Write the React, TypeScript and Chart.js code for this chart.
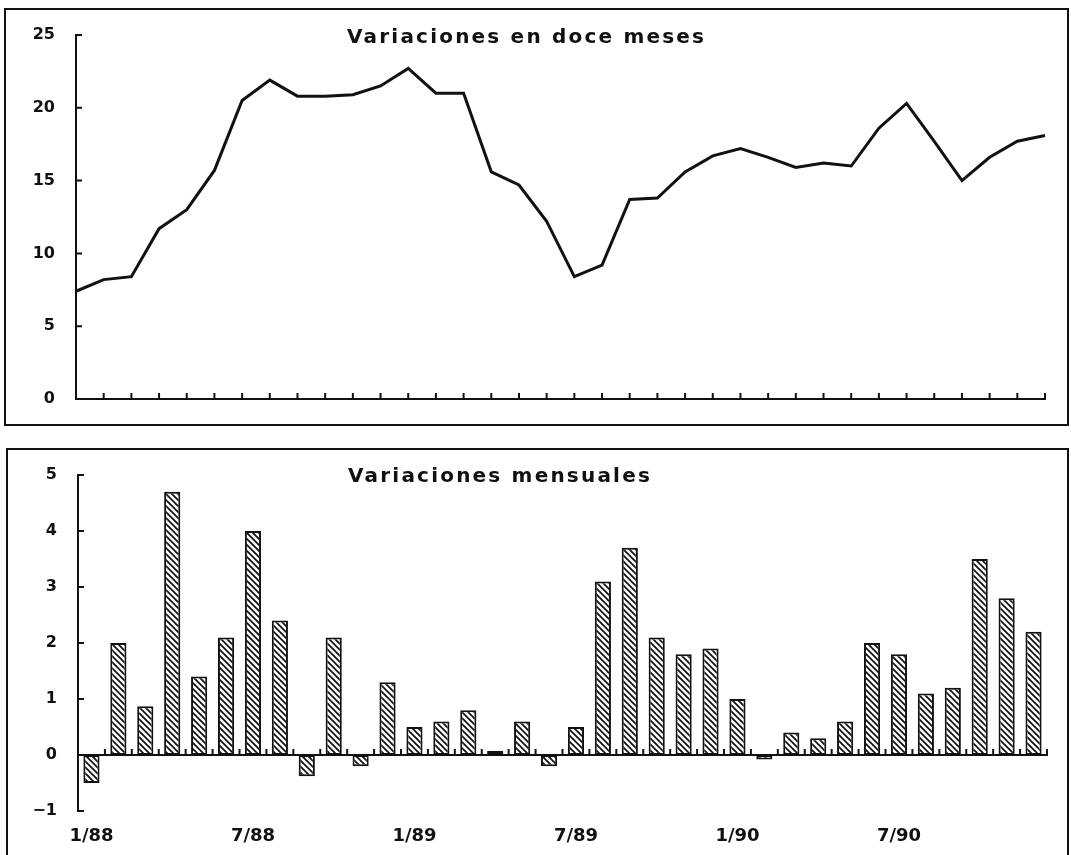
import React, { useEffect, useRef } from 'react';
import { Chart, registerables } from 'chart.js';

Chart.register(...registerables);

// ---- data ----
const months: string[] = [
  '1/88', '2/88', '3/88', '4/88', '5/88', '6/88', '7/88', '8/88', '9/88', '10/88', '11/88', '12/88',
  '1/89', '2/89', '3/89', '4/89', '5/89', '6/89', '7/89', '8/89', '9/89', '10/89', '11/89', '12/89',
  '1/90', '2/90', '3/90', '4/90', '5/90', '6/90', '7/90', '8/90', '9/90', '10/90', '11/90', '12/90',
];

const twelveMonthChange: number[] = [
  7.4, 8.2, 8.4, 11.7, 13.0, 15.7, 20.5, 21.9, 20.8, 20.8, 20.9, 21.5,
  22.7, 21.0, 21.0, 15.6, 14.7, 12.2, 8.4, 9.2, 13.7, 13.8, 15.6, 16.7,
  17.2, 16.6, 15.9, 16.2, 16.0, 18.6, 20.3, 17.7, 15.0, 16.6, 17.7, 18.1,
];

const monthlyChange: number[] = [
  -0.5, 2.0, 0.87, 4.7, 1.4, 2.1, 4.0, 2.4, -0.38, 2.1, -0.2, 1.3,
  0.5, 0.6, 0.8, 0.07, 0.6, -0.2, 0.5, 3.1, 3.7, 2.1, 1.8, 1.9,
  1.0, -0.08, 0.4, 0.3, 0.6, 2.0, 1.8, 1.1, 1.2, 3.5, 2.8, 2.2,
];

const shownMonthLabels: string[] = ['1/88', '7/88', '1/89', '7/89', '1/90', '7/90'];

const titleTop = 'Variaciones en doce meses';
const titleBottom = 'Variaciones mensuales';

// ---- style ----
const INK = '#111';
const FONT_FAMILY = '"DejaVu Sans", "Liberation Sans", sans-serif';
const tickFont = { family: FONT_FAMILY, size: 16, weight: 'bold' as const };

const panelTitlePlugin = {
  id: 'panelTitle',
  afterDraw(chart: any, _args: any, opts: any) {
    if (!opts || !opts.text) return;
    const ctx = chart.ctx as CanvasRenderingContext2D;
    ctx.save();
    ctx.font = `bold ${opts.size}px ${FONT_FAMILY}`;
    (ctx as any).letterSpacing = `${opts.spacing}px`;
    ctx.fillStyle = INK;
    ctx.textAlign = 'left';
    ctx.textBaseline = 'middle';
    ctx.fillText(opts.text, opts.x, opts.y);
    ctx.restore();
  },
};

// Inward tick marks: on the y axis (pointing right) and on the y=0 line (pointing up)
const innerTicksPlugin = {
  id: 'innerTicks',
  afterDatasetsDraw(chart: any, _args: any, opts: any) {
    const xs = chart.scales[opts.xScale || 'x'];
    const ys = chart.scales.y;
    if (!xs || !ys) return;
    const len = opts.len || 6;
    const ctx = chart.ctx as CanvasRenderingContext2D;
    ctx.save();
    ctx.strokeStyle = INK;
    ctx.lineWidth = 2;
    ctx.beginPath();
    const ax = ys.right;
    ys.ticks.forEach((_t: any, i: number) => {
      const py = ys.getPixelForTick(i);
      ctx.moveTo(ax, py);
      ctx.lineTo(ax + len, py);
    });
    const base = ys.getPixelForValue(0);
    const n = chart.data.labels.length;
    if (opts.between) {
      for (let i = 0; i <= n; i++) {
        const px = xs.getPixelForValue(i - 0.5);
        ctx.moveTo(px, base);
        ctx.lineTo(px, base - len);
      }
    } else {
      for (let i = 0; i < n; i++) {
        const px = xs.getPixelForValue(i);
        ctx.moveTo(px, base);
        ctx.lineTo(px, base - len);
      }
    }
    ctx.stroke();
    ctx.restore();
  },
};

function makeHatch(): CanvasPattern | string {
  const c = document.createElement('canvas');
  c.width = 6;
  c.height = 6;
  const g = c.getContext('2d');
  if (!g) return '#fff';
  g.fillStyle = '#fff';
  g.fillRect(0, 0, 6, 6);
  g.strokeStyle = INK;
  g.lineWidth = 1.7;
  g.beginPath();
  g.moveTo(-1, -1);
  g.lineTo(7, 7);
  g.moveTo(-1, 5);
  g.lineTo(1, 7);
  g.moveTo(5, -1);
  g.lineTo(7, 1);
  g.stroke();
  return g.createPattern(c, 'repeat') || '#fff';
}

function TopChart() {
  const ref = useRef<HTMLCanvasElement | null>(null);
  useEffect(() => {
    if (!ref.current) return;
    const chart = new Chart(ref.current, {
      type: 'line',
      data: {
        labels: months,
        datasets: [
          {
            data: twelveMonthChange,
            borderColor: INK,
            borderWidth: 3,
            pointRadius: 0,
            tension: 0,
            fill: false,
          },
        ],
      },
      options: {
        animation: false,
        responsive: true,
        maintainAspectRatio: false,
        layout: { padding: { left: 0, right: 26, top: 35, bottom: 0 } },
        plugins: {
          legend: { display: false },
          tooltip: { enabled: false },
          panelTitle: { text: titleTop, x: 347, y: 38, size: 20, spacing: 2.2 },
          innerTicks: { xScale: 'x', len: 6, between: false },
        } as any,
        scales: {
          x: {
            type: 'category',
            offset: false,
            grid: { display: false },
            border: { display: true, color: INK, width: 2 },
            ticks: { display: false },
            afterFit: (s: any) => { s.height = 41; },
          },
          y: {
            min: 0,
            max: 25,
            ticks: { stepSize: 5, font: tickFont, color: INK, padding: 13 },
            grid: { display: false },
            border: { display: true, color: INK, width: 2 },
            afterFit: (s: any) => { s.width = 76; },
          },
        },
      },
      plugins: [panelTitlePlugin, innerTicksPlugin],
    });
    return () => chart.destroy();
  }, []);
  return <canvas ref={ref} />;
}

function BottomChart() {
  const ref = useRef<HTMLCanvasElement | null>(null);
  useEffect(() => {
    if (!ref.current) return;
    const hatch = makeHatch();
    const chart = new Chart(ref.current, {
      type: 'bar',
      data: {
        labels: months,
        datasets: [
          {
            data: monthlyChange,
            backgroundColor: hatch as any,
            borderColor: INK,
            borderWidth: 2,
            borderSkipped: false,
            barPercentage: 0.6,
            categoryPercentage: 1,
            xAxisID: 'x',
            yAxisID: 'y',
          },
        ],
      },
      options: {
        animation: false,
        responsive: true,
        maintainAspectRatio: false,
        layout: { padding: { left: 0, right: 24, top: 27, bottom: 0 } },
        plugins: {
          legend: { display: false },
          tooltip: { enabled: false },
          panelTitle: { text: titleBottom, x: 348, y: 29, size: 20, spacing: 2.2 },
          innerTicks: { xScale: 'x', len: 6, between: true },
        } as any,
        scales: {
          x: {
            type: 'category',
            position: { y: 0 } as any,
            offset: true,
            grid: { display: false },
            border: { display: true, color: INK, width: 2 },
            ticks: { display: false },
            afterFit: (s: any) => { s.height = 0; },
          },
          x2: {
            type: 'category',
            position: 'bottom',
            offset: true,
            grid: { display: false },
            border: { display: false },
            ticks: {
              autoSkip: false,
              maxRotation: 0,
              padding: 7,
              font: { ...tickFont, size: 18 },
              color: INK,
              callback: function (this: any, value: any) {
                const lbl = this.getLabelForValue(value);
                return shownMonthLabels.includes(lbl) ? lbl : '';
              },
            },
            afterFit: (s: any) => { s.height = 44; },
          },
          y: {
            min: -1,
            max: 5,
            ticks: {
              stepSize: 1,
              font: tickFont,
              color: INK,
              padding: 13,
              callback: (v: any) => (Number(v) < 0 ? '\u2212' + Math.abs(Number(v)) : String(v)),
            },
            grid: { display: false },
            border: { display: true, color: INK, width: 2 },
            afterFit: (s: any) => { s.width = 78; },
          },
        },
      },
      plugins: [panelTitlePlugin, innerTicksPlugin],
    });
    return () => chart.destroy();
  }, []);
  return <canvas ref={ref} />;
}

export default function App() {
  return (
    <div
      style={{
        position: 'absolute',
        left: 0,
        top: 0,
        width: 1071,
        height: 855,
        overflow: 'hidden',
        background: '#fff',
      }}
    >
      <div
        style={{
          position: 'absolute',
          left: 4,
          top: 8,
          width: 1065,
          height: 418,
          border: `2px solid ${INK}`,
          boxSizing: 'border-box',
        }}
      />
      <div
        style={{
          position: 'absolute',
          left: 6,
          top: 448,
          width: 1063,
          height: 430,
          border: `2px solid ${INK}`,
          boxSizing: 'border-box',
        }}
      />
      <div style={{ position: 'absolute', left: 0, top: 0, width: 1071, height: 440 }}>
        <TopChart />
      </div>
      <div style={{ position: 'absolute', left: 0, top: 448, width: 1071, height: 407 }}>
        <BottomChart />
      </div>
    </div>
  );
}
